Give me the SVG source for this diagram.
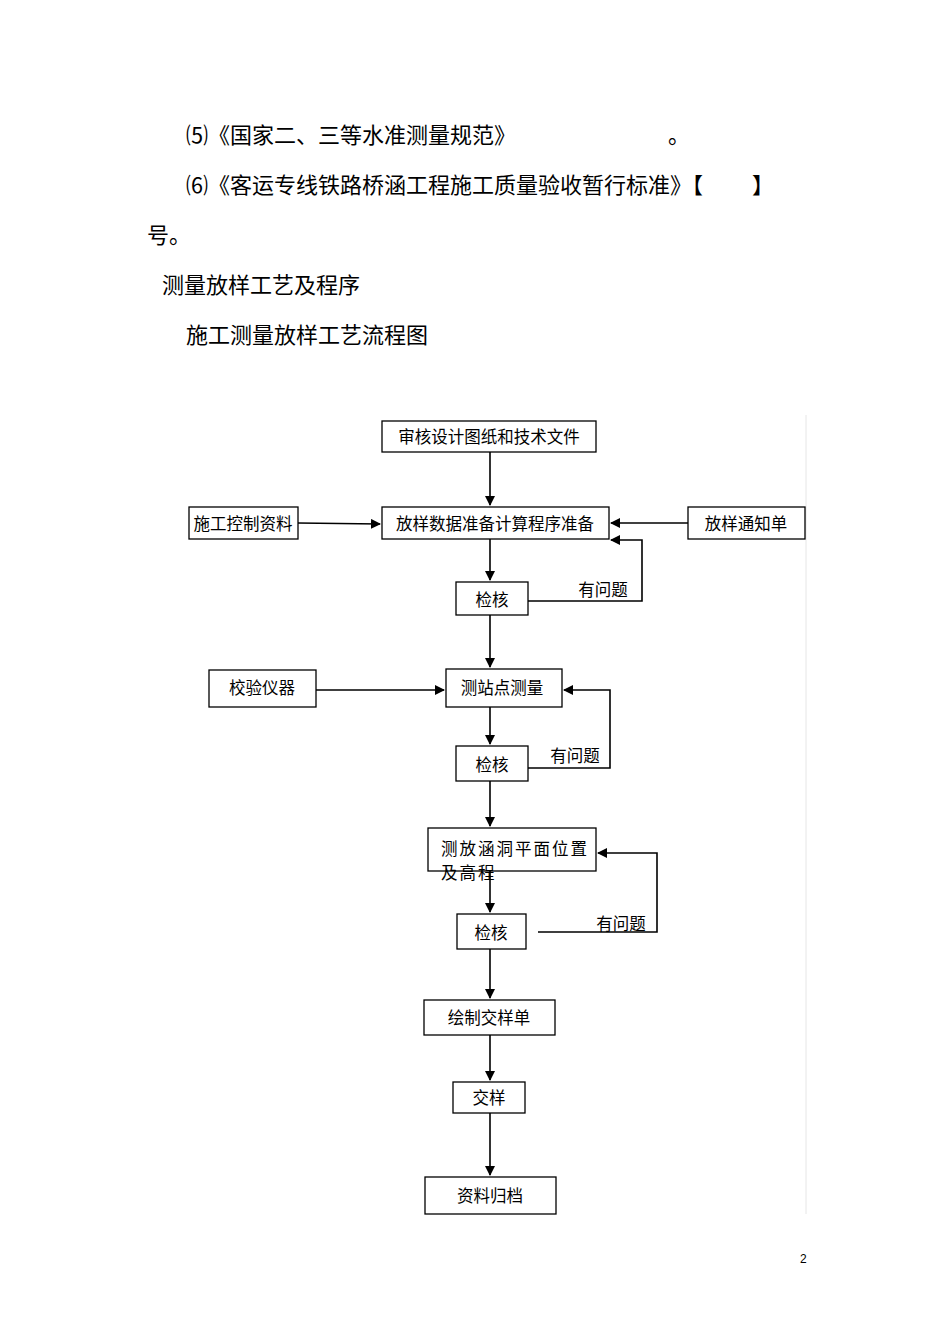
<svg xmlns="http://www.w3.org/2000/svg" width="950" height="1344" viewBox="0 0 950 1344">
<style>
.t{font-family:"Liberation Serif","Noto Sans CJK SC",serif;font-size:22px;fill:#000}
.n{font-family:"Liberation Serif","Noto Sans CJK SC",serif;font-size:16.5px;fill:#000;text-anchor:middle}
rect{fill:#fff;stroke:#000;stroke-width:1.3}
.c path{fill:none;stroke:#000;stroke-width:1.6}
</style>
<defs><marker id="a" markerWidth="10" markerHeight="10" refX="9" refY="5" orient="auto" markerUnits="userSpaceOnUse"><path d="M0,0L10,5L0,10z" fill="#000"/></marker></defs>
<rect width="950" height="1344" style="stroke:none"/>
<text class="t" x="186" y="143">⑸《国家二、三等水准测量规范》</text>
<text class="t" x="668" y="143">。</text>
<text class="t" x="186" y="193">⑹《客运专线铁路桥涵工程施工质量验收暂行标准》【</text>
<text class="t" x="752" y="193">】</text>
<text class="t" x="147" y="243">号。</text>
<text class="t" x="162" y="293">测量放样工艺及程序</text>
<text class="t" x="186" y="343">施工测量放样工艺流程图</text>
<text x="800" y="1263" style="font-family:'Liberation Sans',sans-serif;font-size:12px">2</text>
<line x1="806" y1="415" x2="806" y2="1214" stroke="#e6e6e6" stroke-width="1"/>
<g class="c">
<path d="M490,452V505" marker-end="url(#a)"/>
<path d="M298,523L380,524" marker-end="url(#a)"/>
<path d="M688,523H611" marker-end="url(#a)"/>
<path d="M490,539V580" marker-end="url(#a)"/>
<path d="M528,601H642V540H611" marker-end="url(#a)"/>
<path d="M490,615V667" marker-end="url(#a)"/>
<path d="M316,690H444" marker-end="url(#a)"/>
<path d="M490,707V744" marker-end="url(#a)"/>
<path d="M528,768H610V690H564" marker-end="url(#a)"/>
<path d="M490,781V826" marker-end="url(#a)"/>
<path d="M490,871V912" marker-end="url(#a)"/>
<path d="M538,932H657V853H598" marker-end="url(#a)"/>
<path d="M490,949V998" marker-end="url(#a)"/>
<path d="M490,1035V1080" marker-end="url(#a)"/>
<path d="M490,1113V1175" marker-end="url(#a)"/>
</g>
<g id="n1"><rect x="382" y="421" width="214" height="31"/><text class="n" x="489" y="443">审核设计图纸和技术文件</text></g>
<g id="n2"><rect x="382" y="507" width="227" height="32"/><text class="n" x="495" y="530">放样数据准备计算程序准备</text></g>
<g id="n3"><rect x="189" y="507" width="109" height="32"/><text class="n" x="243" y="530">施工控制资料</text></g>
<g id="n4"><rect x="688" y="507" width="117" height="32"/><text class="n" x="746" y="530">放样通知单</text></g>
<g id="n5"><rect x="456" y="582" width="72" height="33"/><text class="n" x="492" y="606">检核</text></g>
<text class="n" x="603" y="596">有问题</text>
<g id="n6"><rect x="446" y="669" width="116" height="38"/><text class="n" x="502" y="694">测站点测量</text></g>
<g id="n7"><rect x="209" y="670" width="107" height="37"/><text class="n" x="262" y="694">校验仪器</text></g>
<g id="n8"><rect x="456" y="746" width="72" height="35"/><text class="n" x="492" y="771">检核</text></g>
<text class="n" x="575" y="762">有问题</text>
<g id="n9"><rect x="428" y="828" width="168" height="43"/><text class="n" x="441" y="855" style="text-anchor:start;letter-spacing:2px">测放涵洞平面位置</text><text class="n" x="441" y="879" style="text-anchor:start;letter-spacing:2px">及高程</text></g>
<g id="n10"><rect x="457" y="914" width="69" height="35"/><text class="n" x="491" y="939">检核</text></g>
<text class="n" x="621" y="930">有问题</text>
<g id="n11"><rect x="424" y="1000" width="131" height="35"/><text class="n" x="489" y="1024">绘制交样单</text></g>
<g id="n12"><rect x="453" y="1082" width="72" height="31"/><text class="n" x="489" y="1104">交样</text></g>
<g id="n13"><rect x="425" y="1177" width="131" height="37"/><text class="n" x="490" y="1202">资料归档</text></g>
</svg>
